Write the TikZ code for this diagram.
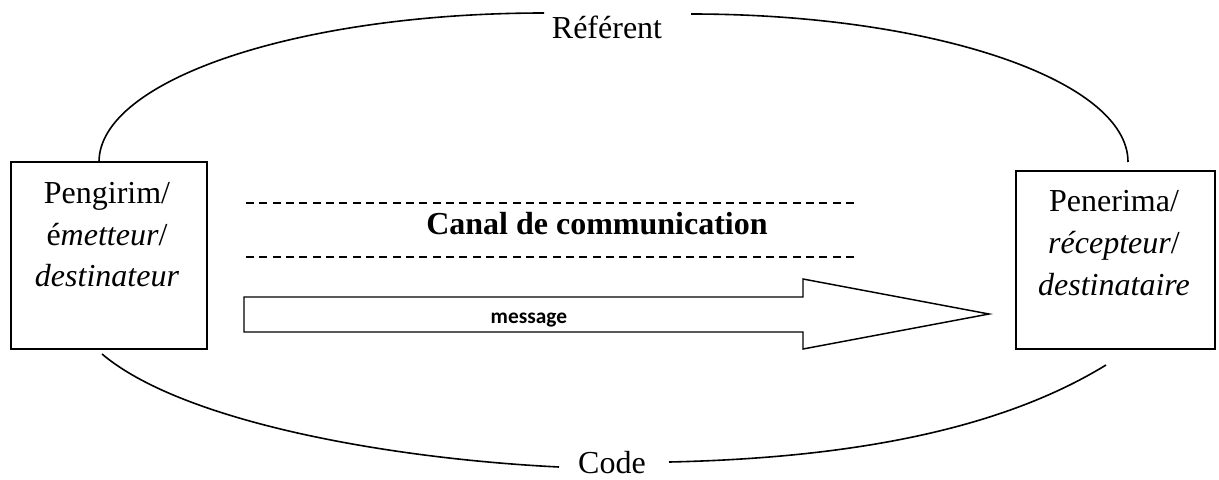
\documentclass[tikz,border=0pt]{standalone}
\usepackage{fontspec}
\setmainfont{Liberation Serif}
\newfontfamily\calibrifont{Carlito}
\begin{document}
\begin{tikzpicture}[x=0.75pt,y=-0.75pt,
  line width=1.1pt,
  box/.style={draw,line width=1.3pt,inner sep=0pt},
  lbl/.style={anchor=base,inner sep=0pt,font=\fontsize{24}{28}\selectfont},
  curve/.style={line width=1.2pt},
  dashline/.style={line width=0.9pt,dash pattern=on 6pt off 4pt},
]
\useasboundingbox (0,0) rectangle (1219,479);
% boxes
\node[box,minimum width=147pt,minimum height=140.25pt] (L) at (109,255.5) {};
\node[box,minimum width=149.25pt,minimum height=133.5pt] (R) at (1115.5,260) {};
% box texts
\node[lbl] (l1) at (107,203) {Pengirim/};
\node[lbl] (l2) at (107,245) {é\textit{metteur}/};
\node[lbl] (l3) at (107,286) {\textit{destinateur}};
\node[lbl] (r1) at (1114,211) {Penerima/};
\node[lbl] (r2) at (1114,253) {\textit{récepteur}/};
\node[lbl] (r3) at (1114,295) {\textit{destinataire}};
% labels
\node[lbl] (ref) at (607,38) {Référent};
\node[lbl] (code) at (612,473) {Code};
% curve end points
\coordinate (tl1) at (99,162);
\coordinate (tl2) at (544,13);
\coordinate (tr1) at (691,14);
\coordinate (tr2) at (1128,162);
\coordinate (bl1) at (102,354);
\coordinate (bl2) at (559,467);
\coordinate (br1) at (669,462);
\coordinate (br2) at (1106,365);
\draw[curve] (tl1) .. controls (99,80) and (298,13) .. (tl2);
\draw[curve] (tr1) .. controls (932,14) and (1128,80) .. (tr2);
\draw[curve] (bl1) .. controls (180,420) and (380,458) .. (bl2);
\draw[curve] (br1) .. controls (850,458) and (1000,430) .. (br2);
% channel
\coordinate (d1a) at (246,203);
\coordinate (d1b) at (855,203);
\coordinate (d2a) at (246,257);
\coordinate (d2b) at (855,257);
\draw[dashline] (d1a) -- (d1b);
\draw[dashline] (d2a) -- (d2b);
\node[lbl,font=\fontsize{24}{28}\selectfont\bfseries] (canal) at (597,234) {Canal de communication};
% arrow
\draw[line width=1.1pt,line join=miter] (244,297) -- (803,297) -- (803,279) -- (989,314) -- (803,349) -- (803,332) -- (244,332) -- cycle;
\node[anchor=base west,inner sep=0pt,font=\calibrifont\bfseries\fontsize{16}{18}\selectfont] (msg) at (490,323) {message};
\end{tikzpicture}
\end{document}
